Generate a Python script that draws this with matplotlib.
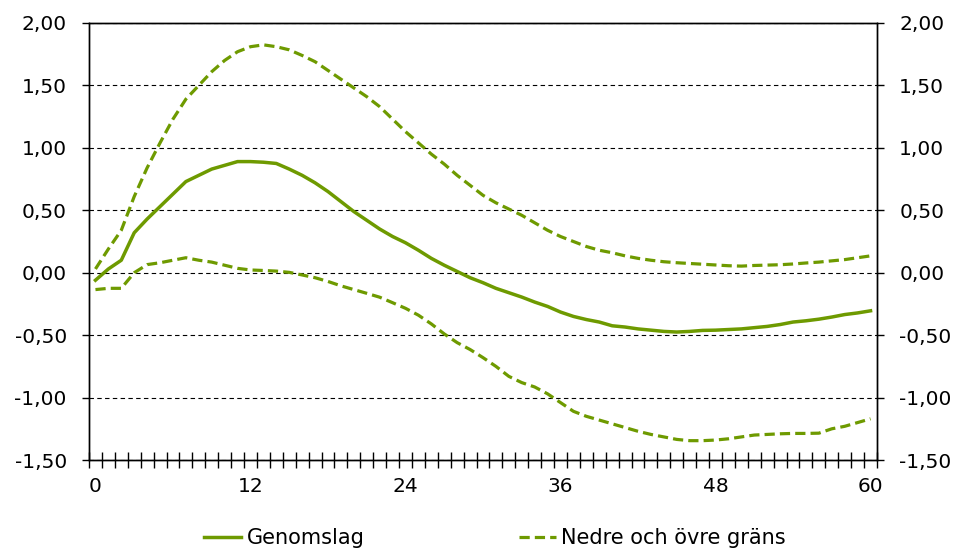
import numpy as np
import matplotlib.pyplot as plt
from matplotlib.ticker import FuncFormatter

plt.rcParams['font.family'] = ['DejaVu Sans']

months = np.arange(0, 61)
genomslag = [-0.06, 0.03, 0.10, 0.32, 0.43, 0.53, 0.63, 0.73, 0.78, 0.83,
             0.86, 0.89, 0.89, 0.885, 0.875, 0.83, 0.78, 0.72, 0.65, 0.57,
             0.49, 0.42, 0.35, 0.29, 0.24, 0.18, 0.115, 0.06, 0.01, -0.04,
             -0.08, -0.125, -0.16, -0.195, -0.235, -0.27, -0.315, -0.35, -0.375, -0.395,
             -0.425, -0.435, -0.45, -0.46, -0.47, -0.475, -0.47, -0.462, -0.46, -0.455,
             -0.45, -0.44, -0.43, -0.415, -0.395, -0.385, -0.372, -0.355, -0.335, -0.322,
             -0.305]
ovre = [0.03, 0.19, 0.34, 0.61, 0.84, 1.04, 1.23, 1.39, 1.50, 1.61,
        1.70, 1.77, 1.81, 1.825, 1.81, 1.785, 1.74, 1.69, 1.62, 1.55,
        1.48, 1.41, 1.33, 1.23, 1.13, 1.04, 0.95, 0.87, 0.78, 0.70,
        0.62, 0.56, 0.51, 0.46, 0.40, 0.34, 0.29, 0.25, 0.21, 0.18,
        0.16, 0.135, 0.115, 0.10, 0.088, 0.08, 0.074, 0.068, 0.062, 0.056,
        0.053, 0.058, 0.061, 0.064, 0.07, 0.078, 0.085, 0.095, 0.105, 0.12,
        0.135]
nedre = [-0.135, -0.125, -0.125, 0.00, 0.065, 0.08, 0.10, 0.12, 0.10, 0.085,
         0.06, 0.035, 0.022, 0.018, 0.013, 0.003, -0.018, -0.04, -0.07, -0.105,
         -0.135, -0.165, -0.196, -0.24, -0.285, -0.34, -0.41, -0.49, -0.56, -0.615,
         -0.68, -0.75, -0.83, -0.88, -0.915, -0.97, -1.04, -1.11, -1.15, -1.18,
         -1.21, -1.24, -1.27, -1.295, -1.315, -1.335, -1.345, -1.345, -1.34, -1.33,
         -1.315, -1.30, -1.295, -1.29, -1.287, -1.287, -1.285, -1.25, -1.23, -1.20,
         -1.17]
xticks = [0, 12, 24, 36, 48, 60]
yticks = np.arange(-1.5, 2.01, 0.5)

green = '#6E9A00'
fs = 14.5

fig = plt.figure(figsize=(9.59, 5.5), dpi=100)
ax = fig.add_axes([0.0928, 0.1636, 0.8217, 0.7946])

ax.plot(months, genomslag, color=green, lw=2.5, label='Genomslag', zorder=3)
ax.plot(months, ovre, color=green, lw=2.3, dashes=(3.2, 1.6),
        label='Nedre och övre gräns', zorder=3)
ax.plot(months, nedre, color=green, lw=2.3, dashes=(3.2, 1.6), zorder=3)

ax.set_xlim(-0.5, 60.5)
ax.set_ylim(-1.5, 2.0)
ax.set_yticks(yticks)
ax.set_xticks(xticks)
ax.set_xticks(np.arange(-0.5, 61, 1), minor=True)
ax.tick_params(axis='x', which='major', length=0, pad=12, labelsize=fs)
ax.tick_params(axis='x', which='minor', direction='inout', length=12, width=1)
ax.tick_params(axis='y', direction='out', length=5, width=1, pad=11, labelsize=fs)

fmt = FuncFormatter(lambda v, p: ('%.2f' % v).replace('.', ','))
ax.yaxis.set_major_formatter(fmt)
ax.yaxis.grid(True, color='black', lw=0.8, linestyle=(0, (4, 3)))
ax.set_axisbelow(True)
for s in ax.spines.values():
    s.set_linewidth(1)
    s.set_color('black')

ax2 = ax.twinx()
ax2.set_ylim(-1.5, 2.0)
ax2.set_yticks(yticks)
ax2.yaxis.set_major_formatter(fmt)
ax2.tick_params(axis='y', direction='out', length=5, width=1, pad=11, labelsize=fs)
for s in ax2.spines.values():
    s.set_linewidth(1)
    s.set_color('black')

fig.legend(loc='center', bbox_to_anchor=(0.516, 0.022), ncol=2, frameon=False,
           fontsize=15, handlelength=1.8, handletextpad=0.25, columnspacing=7.4)

fig.savefig('out.png', dpi=100)
